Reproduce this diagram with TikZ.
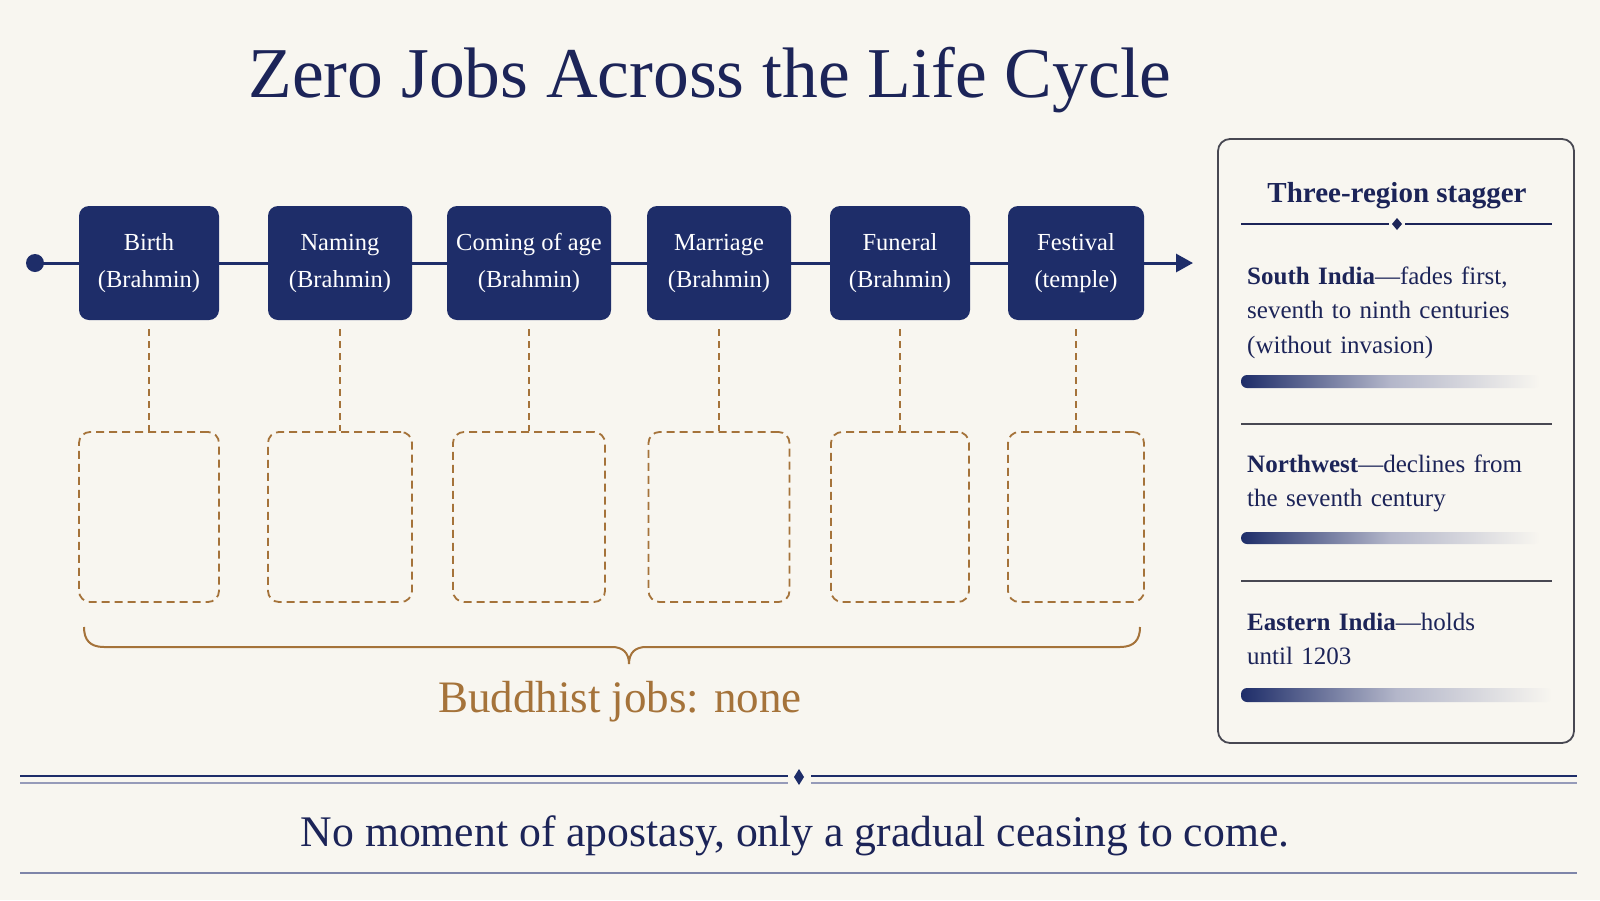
\documentclass[tikz,border=0pt]{standalone}
\usepackage{fontspec}
\setmainfont{Liberation Serif}
\usetikzlibrary{arrows.meta,positioning}

\definecolor{paper}{RGB}{248,246,240}
\definecolor{navy}{RGB}{30,45,105}
\definecolor{ink}{RGB}{28,36,88}
\definecolor{ochre}{RGB}{165,115,58}
\definecolor{frame}{RGB}{72,72,82}
\definecolor{mist}{RGB}{150,155,185}

\tikzset{
  stage/.style={draw=none, fill=navy, rounded corners=10pt, minimum height=114pt, inner sep=0pt,
    text=white, align=center, font=\fontsize{24.5}{37}\selectfont},
  slot/.style={draw=ochre, line width=1.8pt, dash pattern=on 8pt off 5pt, rounded corners=11pt,
    minimum height=170pt, inner sep=0pt},
  drop/.style={draw=ochre, line width=1.8pt, dash pattern=on 7pt off 5pt, shorten <=9pt},
  track/.style={draw=navy, line width=3pt},
  rule/.style={draw=ink, line width=1.5pt},
  entry/.style={anchor=base west, inner sep=0pt, text=ink, text width=320pt, align=left,
    font=\fontsize{25}{34.5}\selectfont},
  fadebar/.style={rounded corners=6pt, left color=navy, right color=paper, middle color=mist!70!paper}
}

\begin{document}
\begin{tikzpicture}[x=1pt,y=1pt,yscale=-1]
%Shape: Background
\fill[paper] (0,0) rectangle (1600,900);
\useasboundingbox (0,0) rectangle (1600,900);

% Text Node
\node[anchor=base, text=ink, font=\fontsize{71.5}{80}\selectfont] (title) at (710,97) {Zero Jobs Across the Life Cycle};

%Stages on the time line
\node[stage, minimum width=140pt] (birth) at (149,263) {Birth\\(Brahmin)};
\node[stage, minimum width=144pt] (naming) at (340,263) {Naming\\(Brahmin)};
\node[stage, minimum width=164pt] (coming) at (529,263) {Coming of age\\(Brahmin)};
\node[stage, minimum width=144pt] (marriage) at (719,263) {Marriage\\(Brahmin)};
\node[stage, minimum width=140pt] (funeral) at (900,263) {Funeral\\(Brahmin)};
\node[stage, minimum width=136pt] (festival) at (1076,263) {Festival\\(temple)};

%Straight Lines: time line
\coordinate (start) at (35,263);
\coordinate (tip) at (1193,263);
\fill[navy] (start) circle (9pt);
\draw[track] (start) -- (birth.west);
\draw[track] (birth.east) -- (naming.west);
\draw[track] (naming.east) -- (coming.west);
\draw[track] (coming.east) -- (marriage.west);
\draw[track] (marriage.east) -- (funeral.west);
\draw[track] (funeral.east) -- (festival.west);
\draw[track, -{Triangle[length=17pt,width=18pt]}] (festival.east) -- (tip);

%Shape: empty slots
\node[slot, minimum width=140pt] (s1) at (149,517) {};
\node[slot, minimum width=144pt] (s2) at (340,517) {};
\node[slot, minimum width=152pt] (s3) at (529,517) {};
\node[slot, minimum width=141pt] (s4) at (719,517) {};
\node[slot, minimum width=138pt] (s5) at (900,517) {};
\node[slot, minimum width=136pt] (s6) at (1076,517) {};

%Straight Lines: dashed drops
\draw[drop] (birth.south) -- (s1.north);
\draw[drop] (naming.south) -- (s2.north);
\draw[drop] (coming.south) -- (s3.north);
\draw[drop] (marriage.south) -- (s4.north);
\draw[drop] (funeral.south) -- (s5.north);
\draw[drop] (festival.south) -- (s6.north);

%Curve Lines: brace
\coordinate (bl) at (84,627);
\coordinate (br) at (1140,627);
\coordinate (bmid) at (629,664);
\draw[ochre, line width=2pt] (bl) .. controls (84,640) and (90,647) .. (104,647) -- (612,647)
  .. controls (622,647) and (629,652) .. (bmid) .. controls (629,652) and (636,647) .. (646,647)
  -- (1120,647) .. controls (1134,647) and (1140,640) .. (br);

% Text Node
\node[anchor=base, text=ochre, font=\fontsize{45}{50}\selectfont] (none) at (620,712) {Buddhist jobs: none};

%Shape: side panel
\draw[frame, line width=1.8pt, rounded corners=12pt] (1218,139) rectangle (1574,743);
\node[anchor=base, text=ink, font=\bfseries\fontsize{29}{34}\selectfont] (stagger) at (1397,202) {Three-region stagger};
\draw[rule] (1241,224) -- (1389,224);
\draw[rule] (1405,224) -- (1552,224);
\fill[ink] (1397,218) -- (1402,224) -- (1397,230) -- (1392,224) -- cycle;

\node[entry] (south) at (1247,284) {\textbf{South India}---fades first,\\seventh to ninth centuries\\(without invasion)};
\shade[fadebar] (1241,375) rectangle (1540,388);
\draw[frame, line width=1.5pt] (1241,424) -- (1552,424);

\node[entry] (northwest) at (1247,472) {\textbf{Northwest}---declines from\\the seventh century};
\shade[fadebar] (1241,532) rectangle (1540,544);
\draw[frame, line width=1.5pt] (1241,581) -- (1552,581);

\node[entry] (eastern) at (1247,630) {\textbf{Eastern India}---holds\\until 1203};
\shade[fadebar] (1241,688) rectangle (1552,702);

%Straight Lines: bottom rules
\draw[navy, line width=2.5pt] (20,776) -- (788,776);
\draw[navy, line width=2.5pt] (811,776) -- (1577,776);
\draw[mist, line width=2pt] (20,783) -- (788,783);
\draw[mist, line width=2pt] (811,783) -- (1577,783);
\fill[navy] (799,769) -- (804,777) -- (799,785) -- (794,777) -- cycle;

% Text Node
\node[anchor=base, text=ink, font=\fontsize{43.7}{50}\selectfont] (moral) at (795,846) {No moment of apostasy, only a gradual ceasing to come.};
\draw[mist!80!navy, line width=2pt] (20,873) -- (1577,873);

\end{tikzpicture}
\end{document}
